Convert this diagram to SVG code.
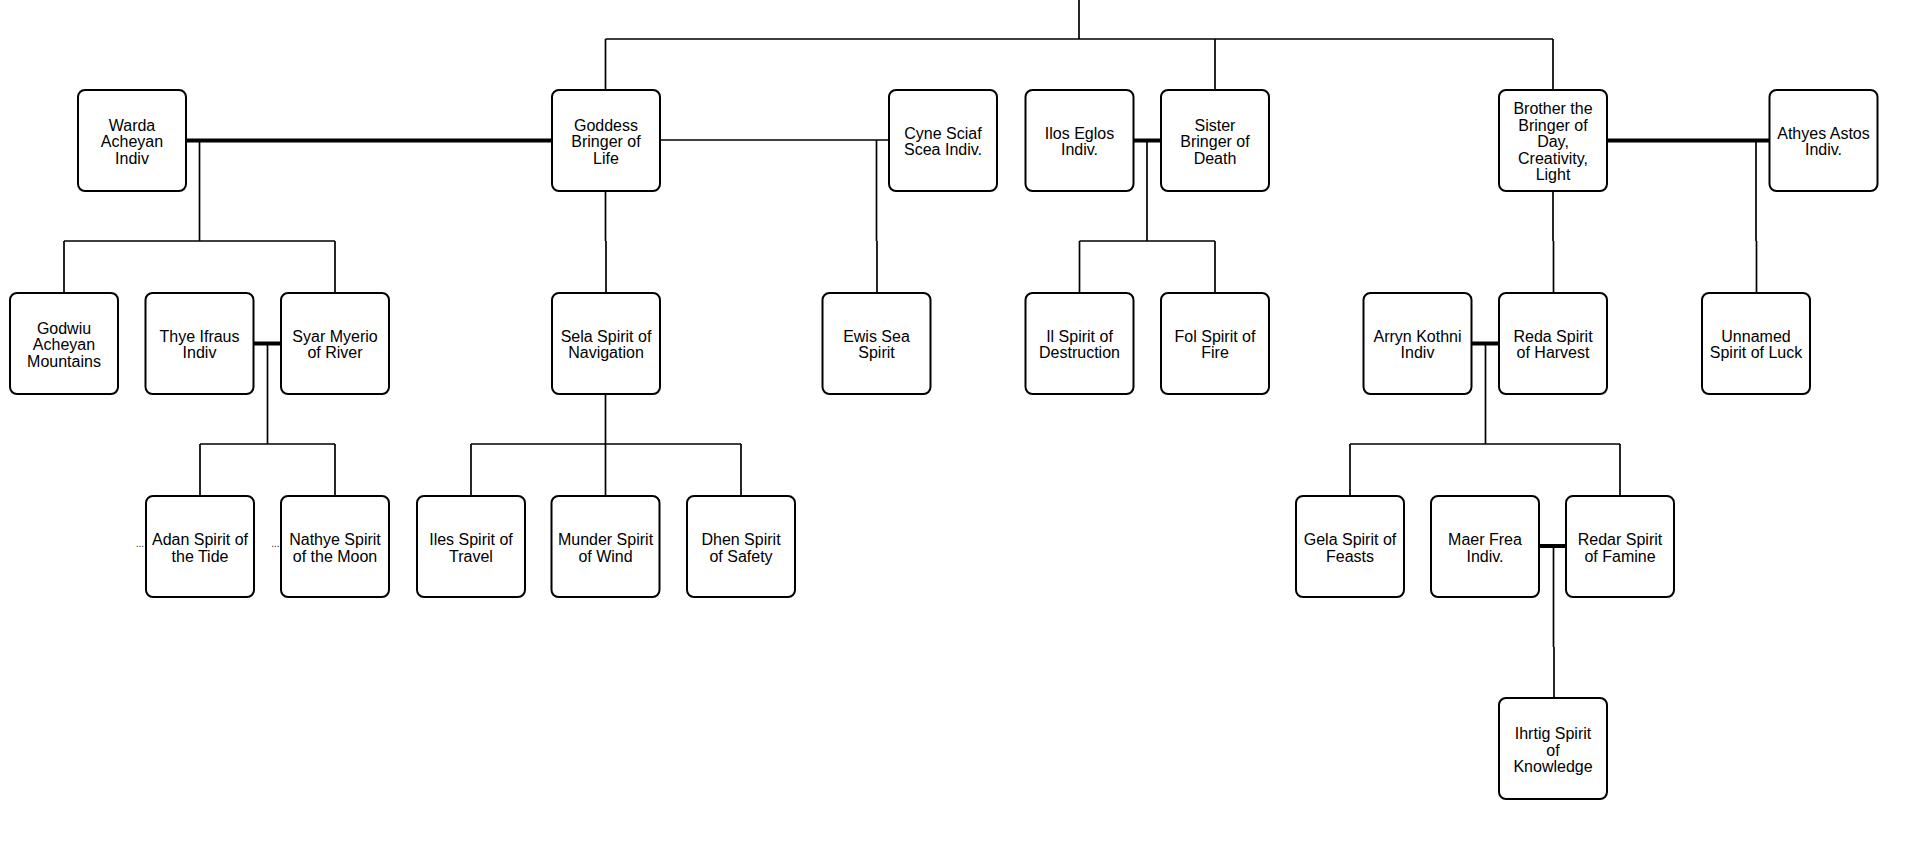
<svg xmlns="http://www.w3.org/2000/svg" width="1912" height="855" viewBox="0 0 1912 855">
<style>
.box{fill:#fff;stroke:#000;stroke-width:2}
.t{font-family:"Liberation Sans",Arial,sans-serif;font-size:16px;fill:#000;text-anchor:middle}
.c{fill:none;stroke:#000;stroke-width:1.7}
.m{fill:none;stroke:#000;stroke-width:4}
.dots{font-family:"Liberation Sans",Arial,sans-serif;font-size:10px;fill:#222;text-anchor:end}
</style>
<rect width="1912" height="855" fill="#fff"/>
<g id="connectors">
<path class="c" d="M1079 0V39M605.5 39H1553M605.5 39V90M1215 39V90M1553 39V90"/>
<path class="m" d="M186 140.5H552"/>
<path class="c" d="M199.5 140.5V241M64 241H335M64 241V293M335 241V293"/>
<path class="m" d="M253.5 343.5H281"/>
<path class="c" d="M267.5 343.5V444M200 444H335M200 444V496M335 444V496"/>
<path class="c" d="M605.5 191V241M606 241V293"/>
<path class="c" d="M605.5 394V444M471 444H741M471 444V496M605.5 444V496M741 444V496"/>
<path class="c" d="M660 140H889"/>
<path class="c" d="M876.5 140V241M877 241V293"/>
<path class="m" d="M1133.5 140.5H1161"/>
<path class="c" d="M1147 140.5V241M1079.5 241H1215M1079.5 241V293M1215 241V293"/>
<path class="m" d="M1607 140.5H1769.5"/>
<path class="c" d="M1553 191V241M1553.5 241V293"/>
<path class="c" d="M1756 140.5V241M1756.5 241V293"/>
<path class="m" d="M1471.5 343.5H1499"/>
<path class="c" d="M1485.5 343.5V444M1350 444H1620M1350 444V496M1620 444V496"/>
<path class="m" d="M1539 546H1566"/>
<path class="c" d="M1553.5 546V647M1554 647V698"/>
</g>
<g id="n-warda"><rect class="box" x="78" y="90" width="108" height="101" rx="7"/><text class="t" x="132" y="130.5">Warda</text><text class="t" x="132" y="147">Acheyan</text><text class="t" x="132" y="163.5">Indiv</text></g>
<g id="n-goddess"><rect class="box" x="552" y="90" width="108" height="101" rx="7"/><text class="t" x="606" y="130.5">Goddess</text><text class="t" x="606" y="147">Bringer of</text><text class="t" x="606" y="163.5">Life</text></g>
<g id="n-cyne"><rect class="box" x="889" y="90" width="108" height="101" rx="7"/><text class="t" x="943" y="138.8">Cyne Sciaf</text><text class="t" x="943" y="155.3">Scea Indiv.</text></g>
<g id="n-ilos"><rect class="box" x="1025.5" y="90" width="108" height="101" rx="7"/><text class="t" x="1079.5" y="138.8">Ilos Eglos</text><text class="t" x="1079.5" y="155.3">Indiv.</text></g>
<g id="n-sister"><rect class="box" x="1161" y="90" width="108" height="101" rx="7"/><text class="t" x="1215" y="130.5">Sister</text><text class="t" x="1215" y="147">Bringer of</text><text class="t" x="1215" y="163.5">Death</text></g>
<g id="n-brother"><rect class="box" x="1499" y="90" width="108" height="101" rx="7"/><text class="t" x="1553" y="114">Brother the</text><text class="t" x="1553" y="130.5">Bringer of</text><text class="t" x="1553" y="147">Day,</text><text class="t" x="1553" y="163.5">Creativity,</text><text class="t" x="1553" y="180">Light</text></g>
<g id="n-athyes"><rect class="box" x="1769.5" y="90" width="108" height="101" rx="7"/><text class="t" x="1823.5" y="138.8">Athyes Astos</text><text class="t" x="1823.5" y="155.3">Indiv.</text></g>
<g id="n-godwiu"><rect class="box" x="10" y="293" width="108" height="101" rx="7"/><text class="t" x="64" y="333.5">Godwiu</text><text class="t" x="64" y="350">Acheyan</text><text class="t" x="64" y="366.5">Mountains</text></g>
<g id="n-thye"><rect class="box" x="145.5" y="293" width="108" height="101" rx="7"/><text class="t" x="199.5" y="341.8">Thye Ifraus</text><text class="t" x="199.5" y="358.3">Indiv</text></g>
<g id="n-syar"><rect class="box" x="281" y="293" width="108" height="101" rx="7"/><text class="t" x="335" y="341.8">Syar Myerio</text><text class="t" x="335" y="358.3">of River</text></g>
<g id="n-sela"><rect class="box" x="552" y="293" width="108" height="101" rx="7"/><text class="t" x="606" y="341.8">Sela Spirit of</text><text class="t" x="606" y="358.3">Navigation</text></g>
<g id="n-ewis"><rect class="box" x="822.5" y="293" width="108" height="101" rx="7"/><text class="t" x="876.5" y="341.8">Ewis Sea</text><text class="t" x="876.5" y="358.3">Spirit</text></g>
<g id="n-il"><rect class="box" x="1025.5" y="293" width="108" height="101" rx="7"/><text class="t" x="1079.5" y="341.8">Il Spirit of</text><text class="t" x="1079.5" y="358.3">Destruction</text></g>
<g id="n-fol"><rect class="box" x="1161" y="293" width="108" height="101" rx="7"/><text class="t" x="1215" y="341.8">Fol Spirit of</text><text class="t" x="1215" y="358.3">Fire</text></g>
<g id="n-arryn"><rect class="box" x="1363.5" y="293" width="108" height="101" rx="7"/><text class="t" x="1417.5" y="341.8">Arryn Kothni</text><text class="t" x="1417.5" y="358.3">Indiv</text></g>
<g id="n-reda"><rect class="box" x="1499" y="293" width="108" height="101" rx="7"/><text class="t" x="1553" y="341.8">Reda Spirit</text><text class="t" x="1553" y="358.3">of Harvest</text></g>
<g id="n-unnamed"><rect class="box" x="1702" y="293" width="108" height="101" rx="7"/><text class="t" x="1756" y="341.8">Unnamed</text><text class="t" x="1756" y="358.3">Spirit of Luck</text></g>
<g id="n-adan"><rect class="box" x="146" y="496" width="108" height="101" rx="7"/><text class="dots" x="144" y="547">...</text><text class="t" x="200" y="545">Adan Spirit of</text><text class="t" x="200" y="561.5">the Tide</text></g>
<g id="n-nathye"><rect class="box" x="281" y="496" width="108" height="101" rx="7"/><text class="dots" x="279.5" y="547">...</text><text class="t" x="335" y="545">Nathye Spirit</text><text class="t" x="335" y="561.5">of the Moon</text></g>
<g id="n-iles"><rect class="box" x="417" y="496" width="108" height="101" rx="7"/><text class="t" x="471" y="545">Iles Spirit of</text><text class="t" x="471" y="561.5">Travel</text></g>
<g id="n-munder"><rect class="box" x="551.5" y="496" width="108" height="101" rx="7"/><text class="t" x="605.5" y="545">Munder Spirit</text><text class="t" x="605.5" y="561.5">of Wind</text></g>
<g id="n-dhen"><rect class="box" x="687" y="496" width="108" height="101" rx="7"/><text class="t" x="741" y="545">Dhen Spirit</text><text class="t" x="741" y="561.5">of Safety</text></g>
<g id="n-gela"><rect class="box" x="1296" y="496" width="108" height="101" rx="7"/><text class="t" x="1350" y="545">Gela Spirit of</text><text class="t" x="1350" y="561.5">Feasts</text></g>
<g id="n-maer"><rect class="box" x="1431" y="496" width="108" height="101" rx="7"/><text class="t" x="1485" y="545">Maer Frea</text><text class="t" x="1485" y="561.5">Indiv.</text></g>
<g id="n-redar"><rect class="box" x="1566" y="496" width="108" height="101" rx="7"/><text class="t" x="1620" y="545">Redar Spirit</text><text class="t" x="1620" y="561.5">of Famine</text></g>
<g id="n-ihrtig"><rect class="box" x="1499" y="698" width="108" height="101" rx="7"/><text class="t" x="1553" y="739">Ihrtig Spirit</text><text class="t" x="1553" y="755.5">of</text><text class="t" x="1553" y="772">Knowledge</text></g>
</svg>
